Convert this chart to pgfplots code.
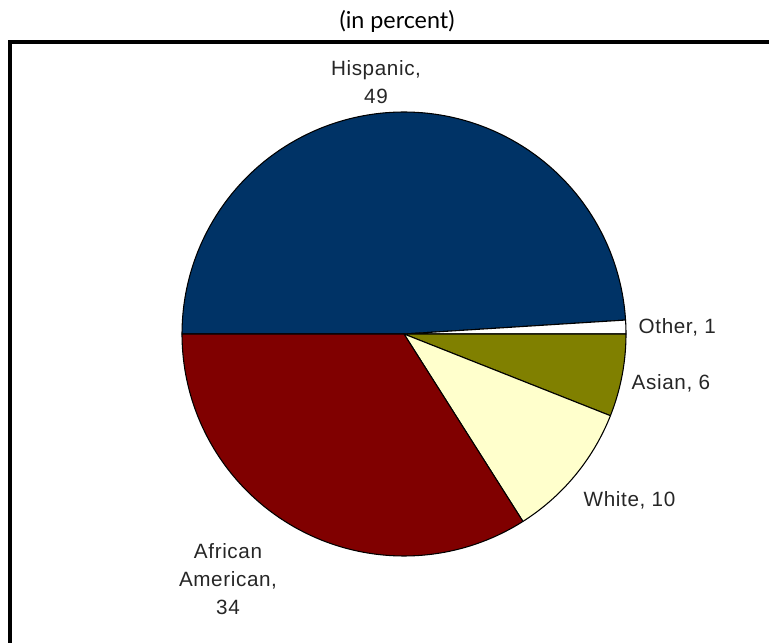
\documentclass[border=0pt]{standalone}
\usepackage{pgfplots}
\pgfplotsset{compat=1.18}
\usepackage{fontspec}
\setmainfont{Liberation Sans}[LetterSpace=3]
\newfontfamily\titlefont{Lato}
\definecolor{hisp}{HTML}{003366}
\definecolor{afam}{HTML}{800000}
\definecolor{whitec}{HTML}{FFFFCC}
\definecolor{asian}{HTML}{808000}
\definecolor{other}{HTML}{FFFFFF}
% slice: #1 = cumulative percent before slice, #2 = percent, #3 = colour
\newcommand{\slice}[3]{%
  \addplot[draw=black, line width=0.8pt, line join=round, fill=#3,
    domain={180-3.6*(#1+#2)}:{180-3.6*(#1)}, samples=150, variable=\t]
    ({404+222*cos(\t)},{309+222*sin(\t)}) -- (axis cs:404,309) -- cycle;}
\begin{document}
\begin{tikzpicture}
\begin{axis}[
  width=576.75pt, height=482.25pt, scale only axis,
  xmin=0, xmax=769, ymin=0, ymax=643,
  hide axis, clip=false]
% frame
\addplot[black, line width=2.5pt, mark=none] coordinates {(10,0) (10,601) (769,601)};
% pie (percent values)
\slice{0}{49}{hisp}
\slice{49}{1}{other}
\slice{50}{6}{asian}
\slice{56}{10}{whitec}
\slice{66}{34}{afam}
% labels
\node[font=\titlefont\fontsize{17.5}{20}\selectfont] at (axis cs:397,622) {(in percent)};
\node[font=\fontsize{15.5}{21}\selectfont, align=center, text=black!85] at (axis cs:376,561) {Hispanic,\\49};
\node[font=\fontsize{15.5}{21}\selectfont, anchor=west, text=black!85] at (axis cs:634,316) {Other, 1};
\node[font=\fontsize{15.5}{21}\selectfont, anchor=west, text=black!85] at (axis cs:627,260) {Asian, 6};
\node[font=\fontsize{15.5}{21}\selectfont, anchor=west, text=black!85] at (axis cs:579,143) {White, 10};
\node[font=\fontsize{15.5}{21}\selectfont, align=center, text=black!85] at (axis cs:228,64) {African\\American,\\34};
\end{axis}
\pgfresetboundingbox
\path[use as bounding box] (0,0) rectangle (576.75pt,482.25pt);
\end{tikzpicture}
\end{document}
